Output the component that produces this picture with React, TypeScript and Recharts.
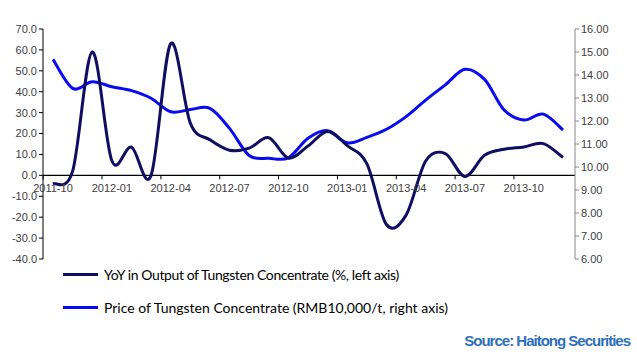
import { LineChart, Line, XAxis, YAxis, ReferenceLine } from 'recharts';

const months = [
  '2011-10', '2011-11', '2011-12', '2012-01', '2012-02', '2012-03', '2012-04',
  '2012-05', '2012-06', '2012-07', '2012-08', '2012-09', '2012-10', '2012-11',
  '2012-12', '2013-01', '2013-02', '2013-03', '2013-04', '2013-05', '2013-06',
  '2013-07', '2013-08', '2013-09', '2013-10', '2013-11', '2013-12',
];

// YoY in output, % (left axis)
const yoyOutput = [
  -4, 2, 59, 7, 13.5, 0, 63, 25, 17, 12, 13, 18, 8.3, 14,
  21, 14.2, 5.6, -23.5, -19, 6.9, 10.4, -0.5, 9.6, 12.5, 13.6, 15.2, 8.5,
];

// price, RMB10,000/t (right axis)
const price = [
  14.68, 13.42, 13.71, 13.49, 13.32, 12.99, 12.4, 12.5, 12.55, 11.68, 10.5, 10.38, 10.4, 11.25,
  11.58, 11.05, 11.29, 11.64, 12.19, 12.91, 13.57, 14.25, 13.81, 12.48, 12.04, 12.3, 11.61,
];

const leftTicks = [-40, -30, -20, -10, 0, 10, 20, 30, 40, 50, 60, 70];
const rightTicks = [6, 7, 8, 9, 10, 11, 12, 13, 14, 15, 16];

const seriesNames = [
  'YoY in Output of Tungsten Concentrate (%, left axis)',
  'Price of Tungsten Concentrate (RMB10,000/t, right axis)',
];
const seriesColors = ['#0e0e62', '#0a0af0'];

const data = months.map((m, i) => ({ month: m, yoy: yoyOutput[i], price: price[i] }));

const W = 637;
const H = 356;
const TOP = 29;
const BOTTOM = 97;
const X_AXIS_H = 20;
const LEFT_W = 43;
const RIGHT_W = 62;
const PLOT_H = H - TOP - BOTTOM;
const PAD_L = 10;
const PAD_R = 12;
const STEP = (W - LEFT_W - RIGHT_W - PAD_L - PAD_R) / (months.length - 1);
const ZERO_Y = TOP + (70 / 110) * PLOT_H;
const FONT = "'Liberation Sans', Arial, sans-serif";

// Excel-like smoothed line (Catmull-Rom through the points)
function smoothCurve(context: any) {
  let pts: number[][] = [];
  return {
    areaStart() {},
    areaEnd() {},
    lineStart() {
      pts = [];
    },
    point(x: number, y: number) {
      pts.push([+x, +y]);
    },
    lineEnd() {
      const n = pts.length;
      if (!n) return;
      context.moveTo(pts[0][0], pts[0][1]);
      for (let i = 0; i < n - 1; i++) {
        const p0 = pts[i - 1] || pts[i];
        const p1 = pts[i];
        const p2 = pts[i + 1];
        const p3 = pts[i + 2] || p2;
        context.bezierCurveTo(
          p1[0] + (p2[0] - p0[0]) / 6,
          p1[1] + (p2[1] - p0[1]) / 6,
          p2[0] - (p3[0] - p1[0]) / 6,
          p2[1] - (p3[1] - p1[1]) / 6,
          p2[0],
          p2[1]
        );
      }
    },
  };
}

// month labels sit under the zero line, not at the bottom of the plot
function MonthTick(props: any) {
  const { x, payload } = props;
  const tx = x - STEP / 2;
  return (
    <g>
      <line x1={tx} x2={tx} y1={ZERO_Y} y2={ZERO_Y + 4} stroke="#000" />
      <text x={x} y={ZERO_Y + 17} textAnchor="middle" fontSize={11} fill="#404040" fontFamily={FONT}>
        {payload.value}
      </text>
    </g>
  );
}

export default function App() {
  return (
    <div style={{ position: 'absolute', left: 0, top: 0, width: W, height: H, background: '#fff' }}>
      <LineChart
        width={W}
        height={H}
        data={data}
        margin={{ top: TOP, right: 0, bottom: BOTTOM - X_AXIS_H, left: 0 }}
      >
        <XAxis
          dataKey="month"
          interval={2}
          height={X_AXIS_H}
          axisLine={false}
          tickLine={false}
          tick={<MonthTick />}
          padding={{ left: PAD_L, right: PAD_R }}
        />
        <YAxis
          yAxisId="left"
          width={LEFT_W}
          domain={[-40, 70]}
          ticks={leftTicks}
          tickFormatter={(v: number) => v.toFixed(1)}
          stroke="#000"
          tickSize={4}
          tick={{ fontSize: 11, fill: '#404040', fontFamily: FONT }}
        />
        <YAxis
          yAxisId="right"
          orientation="right"
          width={RIGHT_W}
          domain={[6, 16]}
          ticks={rightTicks}
          tickFormatter={(v: number) => v.toFixed(2)}
          stroke="#888"
          tickSize={4}
          tick={{ fontSize: 11, fill: '#404040', fontFamily: FONT }}
        />
        <ReferenceLine yAxisId="left" y={0} stroke="#000" strokeWidth={1.2} />
        <Line
          yAxisId="right"
          dataKey="price"
          type={smoothCurve as any}
          stroke={seriesColors[1]}
          strokeWidth={3}
          dot={false}
          isAnimationActive={false}
        />
        <Line
          yAxisId="left"
          dataKey="yoy"
          type={smoothCurve as any}
          stroke={seriesColors[0]}
          strokeWidth={3}
          dot={false}
          isAnimationActive={false}
        />
      </LineChart>
      {seriesNames.map((name, i) => (
        <div
          key={name}
          style={{
            position: 'absolute',
            left: 63,
            top: 264 + i * 33,
            height: 20,
            display: 'flex',
            alignItems: 'center',
            fontFamily: 'Lato, sans-serif',
            fontSize: 14,
            letterSpacing: i === 0 ? -0.4 : 0,
            color: '#000',
            whiteSpace: 'nowrap',
          }}
        >
          <span
            style={{ display: 'inline-block', width: 35, height: 3, background: seriesColors[i], marginRight: 6 }}
          />
          {name}
        </div>
      ))}
      <div
        style={{
          position: 'absolute',
          right: 7,
          top: 332,
          fontFamily: FONT,
          fontWeight: 'bold',
          fontSize: 15,
          letterSpacing: -1,
          color: '#2f6fba',
        }}
      >
        Source: Haitong Securities
      </div>
    </div>
  );
}
